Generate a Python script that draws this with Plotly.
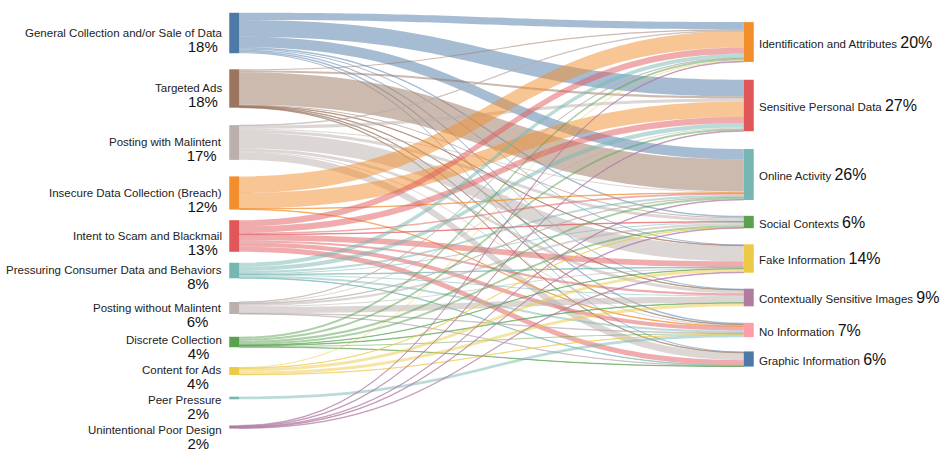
"""Sankey: privacy harm intents (left) -> information types (right)."""
import plotly.graph_objects as go

# ---- data -------------------------------------------------------------
left_names = [
    "General Collection and/or Sale of Data",
    "Targeted Ads",
    "Posting with Malintent",
    "Insecure Data Collection (Breach)",
    "Intent to Scam and Blackmail",
    "Pressuring Consumer Data and Behaviors",
    "Posting without Malintent",
    "Discrete Collection",
    "Content for Ads",
    "Peer Pressure",
    "Unintentional Poor Design",
]
left_pct = ["18%", "18%", "17%", "12%", "13%", "8%", "6%", "4%", "4%", "2%", "2%"]

right_names = [
    "Identification and Attributes",
    "Sensitive Personal Data",
    "Online Activity",
    "Social Contexts",
    "Fake Information",
    "Contextually Sensitive Images",
    "No Information",
    "Graphic Information",
]
right_pct = ["20%", "27%", "26%", "6%", "14%", "9%", "7%", "6%"]

# flows[i][j]: left node i -> right node j (columns follow right_names)
flows = [
    [7, 16, 10, 1.5, 1, 1, 1.5, 1],
    [1, 2, 31, 1, 0.5, 0.5, 0.5, 0.5],
    [0.5, 3, 1, 3, 15, 3, 1, 7],
    [16, 15, 0.5, 0, 0, 0, 0.5, 0],
    [6, 6, 1.5, 0.5, 5.5, 2, 4, 5],
    [4, 4, 2, 1, 0.5, 1, 2, 0.5],
    [0.3, 1, 0.5, 2, 1, 6, 0.5, 0.3],
    [2, 2, 2, 2, 0.3, 0.5, 1, 0.3],
    [1, 0, 0, 0.3, 3, 3, 0.3, 0],
    [0, 0, 0, 0, 0, 0, 2.5, 0],
    [0.6, 0.6, 0.6, 0.6, 0.6, 0, 0, 0],
]

left_colors = ["#4e79a7", "#9c755f", "#bab0ac", "#f28e2b", "#e15759", "#76b7b2",
               "#bab0ac", "#59a14f", "#edc948", "#76b7b2", "#b07aa1"]
right_colors = ["#f28e2b", "#e15759", "#76b7b2", "#59a14f", "#edc948", "#b07aa1",
                "#ff9da7", "#4e79a7"]

# ---- layout helpers ---------------------------------------------------
W, H = 945, 456
M_TOP, M_BOT = 10, 16
PLOT_H = H - M_TOP - M_BOT
DOM_X0, DOM_X1 = 229, 754  # pixel span of the sankey domain

# node centres in pixels (vertical), converted to normalised positions
left_y_px = [33, 88.5, 142.5, 193, 236, 270.5, 308, 342, 371, 398, 427]
right_y_px = [42, 105.5, 174.5, 222, 258.5, 297.5, 330, 359]
# small vertical nudges of the left-hand labels (px)
left_label_dy = [0, 0, 0, 0, 0, 0, 0, -2, -1, 2, 3]


def norm_y(px):
    return (px - M_TOP) / PLOT_H


def rgba(hex_color, a):
    h = hex_color.lstrip("#")
    r, g, b = int(h[0:2], 16), int(h[2:4], 16), int(h[4:6], 16)
    return f"rgba({r},{g},{b},{a})"


n_left = len(left_names)
src, tgt, val, lcol = [], [], [], []
for i, row in enumerate(flows):
    for j, v in enumerate(row):
        if v > 0:
            src.append(i)
            tgt.append(n_left + j)
            val.append(v)
            lcol.append(rgba(left_colors[i], 0.5))

node_x = [0.01] * n_left + [0.99] * len(right_names)
node_y = [norm_y(p) for p in left_y_px] + [norm_y(p) for p in right_y_px]

fig = go.Figure(go.Sankey(
    arrangement="fixed",
    domain=dict(x=[DOM_X0 / W, DOM_X1 / W], y=[0, 1]),
    node=dict(
        label=left_names + right_names,
        color=left_colors + right_colors,
        x=node_x,
        y=node_y,
        pad=20,
        thickness=10,
        line=dict(width=0),
    ),
    link=dict(source=src, target=tgt, value=val, color=lcol),
    textfont=dict(size=1, color="rgba(0,0,0,0)"),
))

NAME_FONT = dict(family="Liberation Sans, Arial, sans-serif", size=11.5, color="#222")
PCT_SPAN = "<span style='font-size:{}px;color:#111'>{}</span>"

annotations = []
for name, pct, py, dy in zip(left_names, left_pct, left_y_px, left_label_dy):
    pad = "&nbsp;" * (1 if len(pct) == 3 else 3)
    annotations.append(dict(
        x=224 / W, y=1 - norm_y(py + dy + 7.5), xref="paper", yref="paper",
        text=name + "<br>" + PCT_SPAN.format(15, pct + pad),
        showarrow=False, xanchor="right", yanchor="middle", align="right",
        font=NAME_FONT,
    ))
for name, pct, py in zip(right_names, right_pct, right_y_px):
    annotations.append(dict(
        x=757 / W, y=1 - norm_y(py), xref="paper", yref="paper",
        text=name + " " + PCT_SPAN.format(16, pct),
        showarrow=False, xanchor="left", yanchor="middle", font=NAME_FONT,
    ))

fig.update_layout(
    width=W, height=H,
    margin=dict(l=0, r=0, t=M_TOP, b=M_BOT),
    paper_bgcolor="white",
    annotations=annotations,
)
# page body has a default 8px margin; drop it so the figure sits at (0,0)
fig.write_html("out.html", config={"displayModeBar": False},
               post_script="document.body.style.margin='0';")
